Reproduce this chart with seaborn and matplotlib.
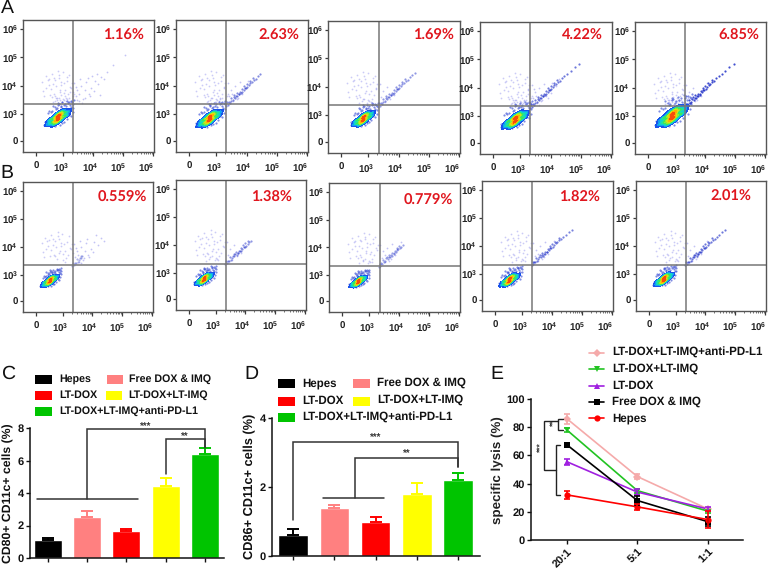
import matplotlib
matplotlib.use("Agg")
import matplotlib.pyplot as plt
from matplotlib.colors import LinearSegmentedColormap
from matplotlib.patches import Rectangle
from matplotlib.lines import Line2D
from matplotlib.transforms import ScaledTranslation
import numpy as np
import pandas as pd
import seaborn as sns

W, H = 769, 568
sns.set_style("white")
plt.rcParams["font.family"] = ["Liberation Sans", "DejaVu Sans"]
plt.rcParams["mathtext.fontset"] = "custom"
plt.rcParams["mathtext.bf"] = "Liberation Sans:bold"
plt.rcParams["mathtext.rm"] = "Liberation Sans:bold"
plt.rcParams["text.hinting"] = "no_hinting"

# ---------- flow cytometry data (log-decade units) ----------
flow_percent_a = ["1.16%", "2.63%", "1.69%", "4.22%", "6.85%"]
flow_percent_b = ["0.559%", "1.38%", "0.779%", "1.82%", "2.01%"]
core_cx_a = [2.84, 2.78, 2.84, 2.84, 2.91]
core_cy_a = [2.87, 2.84, 2.87, 2.87, 3.00]
core_sc_a = [1.0, 1.0, 0.9, 1.05, 1.25]
core_cx_b = [2.58, 2.62, 2.65, 2.59, 2.61]
core_cy_b = [2.78, 2.77, 2.76, 2.77, 2.80]
core_sc_b = [0.72, 0.75, 0.7, 0.8, 0.8]
diag_n_a = [0, 35, 36, 39, 39]
diag_n_b = [12, 30, 28, 37, 37]
diag_alpha_a = [0.35, 0.55, 0.5, 0.65, 0.85]
diag_alpha_b = [0.35, 0.5, 0.45, 0.6, 0.65]
cloud_n_a = [60, 55, 45, 60, 60]
cloud_n_b = [38, 45, 45, 45, 45]
spread_n_a = [30, 12, 8, 18, 10]
spread_n_b = [24, 8, 12, 12, 10]

core_u = [0, 0, 0, .1, -.1, .1, -.1, .05, -.05, .2, -.2, .2, -.2, .3, -.3, .3, -.3, .4, -.4, .15, -.15, 0, 0, .25, -.25]
core_v = [0, .05, -.05, .03, -.03, -.05, .05, .08, -.08, .05, -.05, -.08, .08, .03, -.03, -.08, .08, 0, 0, .12, -.12, .14, -.14, .12, -.12]
fringe_x = [-.35, -.2, -.05, .1, .25, .4, .47, -.3, -.12, .02, .18, .33, .42, -.25, -.08, .08, .22, .36, .5, -.18, -.02, .14, .3, .44, .52, -.44, -.4, -.46, .48, .35, .2, .05, -.1, -.28, .12, .28, .42, .5, .0, .16]
fringe_y = [.15, .24, .34, .42, .4, .45, .55, .24, .38, .48, .44, .52, .58, .2, .3, .38, .5, .56, .5, .42, .52, .55, .6, .38, .62, -.14, -.2, -.24, .2, .1, -.14, -.24, -.28, -.26, -.18, -.05, .05, .35, .46, .3]
cloud_x = [2.30, 2.45, 2.62, 2.71, 2.88, 2.95, 3.08, 3.21, 2.38, 2.53, 2.77, 2.83, 3.02, 3.14, 3.27, 2.42, 2.58, 2.66, 2.91, 2.99, 3.11, 3.30, 2.34, 2.49, 2.73, 2.86, 3.05, 3.18, 2.60, 2.69, 2.81, 2.94, 3.09, 3.24, 2.75, 2.89, 3.00, 2.52, 2.64, 3.15, 2.97, 2.79, 2.68, 2.87, 3.03, 3.20, 3.34, 2.93, 2.84, 3.12, 3.28, 3.38, 2.72, 2.98, 3.07, 2.90, 2.76, 3.16, 3.25, 3.35]
cloud_y = [4.12, 3.92, 4.41, 3.71, 4.28, 4.02, 3.84, 4.37, 3.62, 4.24, 3.98, 4.52, 3.75, 4.16, 3.91, 4.33, 3.68, 4.06, 3.86, 4.47, 3.58, 4.09, 3.81, 4.19, 3.65, 4.38, 4.11, 3.72, 3.88, 4.27, 3.55, 4.14, 3.47, 3.96, 4.21, 3.79, 3.52, 4.03, 3.6, 4.3, 3.44, 3.5, 3.42, 3.58, 3.48, 3.57, 3.62, 3.66, 3.39, 3.53, 3.45, 3.7, 3.46, 3.41, 3.64, 3.49, 3.56, 3.43, 3.78, 3.51]
diag_x = [3.32, 3.38, 3.41, 3.36, 3.45, 3.50, 3.48, 3.55, 3.58, 3.62, 3.60, 3.66, 3.70, 3.68, 3.74, 3.78, 3.76, 3.82, 3.86, 3.84, 3.90, 3.94, 3.92, 3.98, 4.02, 4.00, 4.07, 4.12, 4.10, 4.18, 4.24, 4.22, 4.31, 4.38, 4.46, 4.55, 4.66, 4.80, 4.95]
diag_y = [3.30, 3.33, 3.42, 3.41, 3.40, 3.47, 3.55, 3.51, 3.60, 3.58, 3.66, 3.65, 3.63, 3.73, 3.71, 3.79, 3.70, 3.76, 3.88, 3.78, 3.84, 3.91, 3.98, 3.93, 3.96, 4.05, 4.02, 4.08, 4.15, 4.12, 4.2, 4.27, 4.25, 4.33, 4.4, 4.48, 4.58, 4.72, 4.85]
spread_x = [3.42, 3.55, 3.48, 3.72, 3.61, 3.85, 3.38, 3.94, 3.68, 4.05, 3.52, 3.78, 4.18, 3.44, 3.9, 4.28, 3.63, 4.02, 3.35, 3.82, 4.38, 3.58, 4.12, 3.74, 4.45, 3.46, 3.97, 4.22, 4.68, 5.05]
spread_y = [3.62, 3.45, 3.86, 3.58, 3.98, 3.72, 4.08, 3.92, 3.52, 4.18, 3.72, 4.12, 4.05, 3.95, 3.62, 4.32, 3.4, 3.82, 3.78, 4.28, 4.22, 4.22, 4.42, 3.84, 4.5, 3.5, 4.36, 3.68, 4.72, 5.08]

# ---------- bar charts ----------
groups = ["Hepes", "Free DOX & IMQ", "LT-DOX", "LT-DOX+LT-IMQ", "LT-DOX+LT-IMQ+anti-PD-L1"]
bar_colors = ["#000000", "#FF8080", "#FF0000", "#FFFF00", "#00C400"]
cd80_values = [1.1, 2.5, 1.65, 4.45, 6.4]
cd80_errors = [0.15, 0.4, 0.15, 0.5, 0.4]
cd86_values = [0.6, 1.38, 0.98, 1.8, 2.2]
cd86_errors = [0.17, 0.09, 0.14, 0.32, 0.22]

# ---------- lysis chart ----------
ratios = ["20:1", "5:1", "1:1"]
lysis_groups = ["LT-DOX+LT-IMQ+anti-PD-L1", "LT-DOX+LT-IMQ", "LT-DOX", "Free DOX & IMQ", "Hepes"]
lysis_colors = ["#F5AAAA", "#22C322", "#A020E0", "#000000", "#FF0000"]
lysis_markers = ["D", "v", "^", "s", "o"]
lysis_pink = [86, 45, 22]
lysis_green = [78, 35, 20.5]
lysis_purple = [55.5, 34, 22]
lysis_black = [67.5, 28, 13]
lysis_red = [32, 23.5, 14.5]
err_pink = [3.5, 1.5, 1]
err_green = [1.5, 1.5, 1]
err_purple = [2, 2, 1.5]
err_black = [1, 3, 3]
err_red = [3, 2, 6]

fig = plt.figure(figsize=(W / 100, H / 100), dpi=100)


def ax_px(l, t, r, b):
    return fig.add_axes([l / W, 1 - b / H, (r - l) / W, (b - t) / H])


def ftext(x, y, s, **kw):
    kw.setdefault("va", "center")
    fig.text(x / W, 1 - y / H, s, **kw)


dark = "#3a3a3a"
minor = [d + np.log10(k) for d in (3, 4, 5) for k in range(2, 10)]
flow_cmap = LinearSegmentedColormap.from_list(
    "flow", ["#2238e0", "#1560f0", "#10a8f0", "#10e0c0", "#40e850", "#c8f020", "#ffb000", "#f02010"])
DEC_LABELS = ["0", r"$\mathbf{10^{3}}$", r"$\mathbf{10^{4}}$", r"$\mathbf{10^{5}}$", r"$\mathbf{10^{6}}$"]
LABEL_SHIFT_PX = [0, -2, -3, -5, -7]


def flow_panel(box, gate, cx, cy, sc, nd, ad, nc, ns):
    l, t, r, b = box
    ax = ax_px(l, t, r, b)
    u, v = np.array(core_u), np.array(core_v)
    x = cx + sc * (0.85 * u - 0.5 * v)
    y = cy + sc * (0.55 * u + 0.85 * v)
    fx = cx + sc * np.array(fringe_x)
    fy = cy + sc * np.array(fringe_y)
    sns.scatterplot(x=cloud_x[:nc], y=cloud_y[:nc], s=1.6, color="#6a6ae8", alpha=0.35, linewidth=0, ax=ax)
    sns.scatterplot(x=spread_x[:ns], y=spread_y[:ns], s=1.6, color="#6a6ae8", alpha=0.4, linewidth=0, ax=ax)
    if nd:
        sns.scatterplot(x=diag_x[:nd], y=diag_y[:nd], s=2.5, color="#2030c8", alpha=ad, linewidth=0, ax=ax)
    sns.scatterplot(x=fx, y=fy, s=2.5, color="#2a3fd0", alpha=0.6, linewidth=0, ax=ax)
    sns.kdeplot(x=x, y=y, fill=True, cmap=flow_cmap, levels=10, thresh=0.05, bw_adjust=0.8, ax=ax)
    ax.set_xlim(1.67, 6.03)
    ax.set_ylim(1.66, 6.32)
    gx = 3 + (gate[0] - (l + 40)) / 30
    gy = 1.66 + (b - gate[1]) / 28.3
    ax.axvline(gx, color="#777777", lw=1.1)
    ax.axhline(gy, color="#777777", lw=1.1)
    for s in ax.spines.values():
        s.set_visible(True)
        s.set_color("#555555")
        s.set_linewidth(1.0)
    ax.set_xlabel("")
    ax.set_ylabel("")
    ax.set_xticks([2.1, 3, 4, 5, 6])
    ax.set_xticklabels(DEC_LABELS, fontsize=7, fontweight="bold", color="#222222")
    ax.set_yticks([2.05, 3, 4, 5, 6])
    ax.set_yticklabels(DEC_LABELS, fontsize=7, fontweight="bold", color="#222222")
    ax.set_xticks(minor, minor=True)
    ax.tick_params(axis="x", which="major", length=3, width=0.9, color=dark, pad=4, bottom=True)
    ax.tick_params(axis="x", which="minor", length=1.5, width=0.5, color=dark, bottom=True)
    ax.tick_params(axis="y", which="major", length=2, width=0.9, color=dark, pad=1.5, left=True)
    for lab, dx in zip(ax.get_xticklabels(), LABEL_SHIFT_PX):
        lab.set_transform(lab.get_transform() + ScaledTranslation(dx / 100, 0, fig.dpi_scale_trans))


boxes_a = [(23, 20, 154, 152), (176, 20, 308, 152), (328, 21, 460, 153), (480, 22, 612, 154), (635, 22, 766, 154)]
gates_a = [(73, 104), (226, 104), (379, 105), (530, 106), (685, 106)]
boxes_b = [(23, 182, 153, 312), (176, 180, 306, 310), (329, 183, 460, 312), (482, 181, 613, 311), (636, 181, 766, 311)]
gates_b = [(73, 264), (226, 263), (380, 265), (532, 264), (686, 264)]
label_a = [(124, 36), (279, 36), (433, 36), (582, 36), (739, 36)]
label_b = [(122, 198), (272, 198), (428, 201), (579, 198), (731, 197)]

for i in range(5):
    flow_panel(boxes_a[i], gates_a[i], core_cx_a[i], core_cy_a[i], core_sc_a[i], diag_n_a[i], diag_alpha_a[i], cloud_n_a[i], spread_n_a[i])
    flow_panel(boxes_b[i], gates_b[i], core_cx_b[i], core_cy_b[i], core_sc_b[i], diag_n_b[i], diag_alpha_b[i], cloud_n_b[i], spread_n_b[i])
    ftext(*label_a[i], flow_percent_a[i], color="#E0161E", fontsize=10.5, fontweight="bold", ha="center", family="Lato")
    ftext(*label_b[i], flow_percent_b[i], color="#E0161E", fontsize=10.5, fontweight="bold", ha="center", family="Lato")

for s, x, y in [("A", 7, 8), ("B", 7, 173), ("C", 8, 374), ("D", 251, 374), ("E", 497, 374)]:
    ftext(x, y, s, fontsize=14, ha="center", color="#111111")


def bar_panel(box, xlim, ylim, values, errors, yticks, ylabel, ylx, yly, fs):
    ax = ax_px(*box)
    df = pd.DataFrame({"group": groups, "value": values})
    sns.barplot(data=df, x="group", y="value", hue="group", palette=bar_colors, order=groups,
                hue_order=groups, width=0.71, dodge=False, legend=False, saturation=1, ax=ax)
    for i, (v, e, c) in enumerate(zip(values, errors, bar_colors)):
        ax.errorbar([i], [v], yerr=[[0], [e]], fmt="none", ecolor=c, elinewidth=1.4, capsize=4.5, capthick=1.4)
    ax.set_xlim(*xlim)
    ax.set_ylim(*ylim)
    ax.set_xlabel("")
    ax.set_ylabel("")
    ax.set_xticks(range(5))
    ax.set_xticklabels([])
    ax.set_yticks(yticks)
    ax.set_yticklabels([str(t) for t in yticks], fontsize=8, fontweight="bold", color="#111111")
    ax.tick_params(axis="both", length=3, width=1, color="#111111", bottom=True, left=True, pad=1.5)
    sns.despine(ax=ax)
    for s in ("left", "bottom"):
        ax.spines[s].set_color("#111111")
        ax.spines[s].set_linewidth(1.1)
    ftext(ylx, yly, ylabel, rotation=90, ha="center", fontsize=fs, fontweight="bold", color="#111111")
    return ax


def bracket(ax, xs, ys, lw=1.1, color="#333333"):
    ax.plot(xs, ys, color=color, lw=lw, clip_on=False, solid_joinstyle="miter")


def legend_bars(items):
    for (sx, sy, sw, sh, tx, ty, c, t, fs) in items:
        fig.add_artist(Rectangle((sx / W, 1 - (sy + sh) / H), sw / W, sh / H, transform=fig.transFigure, color=c, lw=0))
        ftext(tx, ty, t, fontsize=fs, fontweight="bold", color="#111111")


# Panel C
ax_c = bar_panel((30, 428, 224, 558), (-0.46, 4.49), (0, 8), cd80_values, cd80_errors, [0, 2, 4, 6, 8],
                 "CD80+ CD11c+ cells (%)", 8, 493, 8.8)
bracket(ax_c, [1, 1, 4, 4], [3.65, 7.95, 7.95, 6.75])
bracket(ax_c, [3, 3, 4, 4], [5.2, 7.3, 7.3, 6.85])
bracket(ax_c, [-0.28, 2.3], [3.65, 3.65])
ax_c.text(2.5, 8.1, "***", ha="center", va="center", fontsize=7, fontweight="bold", color="#333333", clip_on=False)
ax_c.text(3.5, 7.45, "**", ha="center", va="center", fontsize=7, fontweight="bold", color="#333333")
FS_C = 7.7
legend_bars([
    (35, 375, 17, 8.5, 59, 379, bar_colors[0], groups[0], FS_C),
    (107, 375, 16, 8.5, 129, 379, bar_colors[1], groups[1], FS_C),
    (35, 391, 17, 8.5, 59, 395, bar_colors[2], groups[2], FS_C),
    (106, 391, 16, 8.5, 128, 395, bar_colors[3], groups[3], FS_C),
    (35, 407, 17, 8.5, 59, 412, bar_colors[4], groups[4], FS_C),
])

# Panel D
ax_d = bar_panel((272, 418, 480, 556), (-0.51, 4.53), (0, 4), cd86_values, cd86_errors, [0, 2, 4],
                 "CD86+ CD11c+ cells (%)", 250, 486, 9.2)
bracket(ax_d, [0, 0, 4, 4], [1.04, 3.3, 3.3, 2.58])
bracket(ax_d, [1.5, 1.5, 4, 4], [1.68, 2.84, 2.84, 2.58])
bracket(ax_d, [0.73, 2.2], [1.68, 1.68])
ax_d.text(2, 3.42, "***", ha="center", va="center", fontsize=7, fontweight="bold", color="#333333")
ax_d.text(2.75, 2.96, "**", ha="center", va="center", fontsize=7, fontweight="bold", color="#333333")
FS_D = 8.3
legend_bars([
    (278, 379, 17, 8.5, 302, 383, bar_colors[0], groups[0], FS_D),
    (353, 379, 17, 8.5, 377, 383, bar_colors[1], groups[1], FS_D),
    (278, 397, 17, 8.5, 302, 401, bar_colors[2], groups[2], FS_D),
    (353, 397, 17, 8.5, 377, 400, bar_colors[3], groups[3], FS_D),
    (278, 413, 17, 8.5, 302, 418, bar_colors[4], groups[4], FS_D),
])

# Panel E
ax_e = ax_px(531, 399, 743, 540)
lysis_vals = [lysis_pink, lysis_green, lysis_purple, lysis_black, lysis_red]
lysis_errs = [err_pink, err_green, err_purple, err_black, err_red]
long_df = pd.DataFrame({
    "x": [0, 1, 2] * 5,
    "group": [g for g in lysis_groups for _ in ratios],
    "value": [v for vs in lysis_vals for v in vs],
})
sns.lineplot(data=long_df, x="x", y="value", hue="group", style="group", hue_order=lysis_groups, style_order=lysis_groups,
             palette=lysis_colors, markers=lysis_markers, dashes=False, markersize=4.5, markeredgewidth=0,
             linewidth=1.2, errorbar=None, legend=False, ax=ax_e)
for vals, errs, c in zip(lysis_vals, lysis_errs, lysis_colors):
    ax_e.errorbar([0, 1, 2], vals, yerr=errs, fmt="none", ecolor=c, elinewidth=1.2, capsize=2.5, capthick=1.2)
ax_e.set_xlim(-0.51, 2.5)
ax_e.set_ylim(0, 100)
ax_e.set_xlabel("")
ax_e.set_ylabel("")
ax_e.set_xticks([0, 1, 2])
ax_e.set_xticklabels(ratios, rotation=45, ha="right", rotation_mode="anchor", fontsize=8, fontweight="bold", color="#111111")
ax_e.set_yticks([0, 20, 40, 60, 80, 100])
ax_e.set_yticklabels(["0", "20", "40", "60", "80", "100"], fontsize=8, fontweight="bold", color="#111111")
ax_e.tick_params(axis="both", length=3, width=1, color="#111111", bottom=True, left=True, pad=1.5)
sns.despine(ax=ax_e)
for s in ("left", "bottom"):
    ax_e.spines[s].set_color("#111111")
    ax_e.spines[s].set_linewidth(1.1)
ftext(498, 470, "specific lysis (%)", rotation=90, ha="center", fontsize=9.6, fontweight="bold", color="#222222")
bracket(ax_e, [-0.061, -0.128, -0.128, -0.061], [85.8, 85.8, 78.2, 78.2], lw=1, color="#222222")
bracket(ax_e, [-0.095, -0.161, -0.161, -0.095], [67.4, 67.4, 31.9, 31.9], lw=1, color="#222222")
bracket(ax_e, [-0.128, -0.326, -0.326, -0.161], [84.2, 84.2, 49.9, 49.9], lw=1, color="#222222")
ax_e.text(-0.19, 83, "**", rotation=90, ha="center", va="center", fontsize=6, fontweight="bold", color="#333333")
ax_e.text(-0.378, 66, "***", rotation=90, ha="center", va="center", fontsize=6, fontweight="bold", color="#333333")
for g, c, m, y in zip(lysis_groups, lysis_colors, lysis_markers, [353, 369, 386, 402, 418]):
    fig.add_artist(Line2D([589 / W, 604 / W], [1 - y / H, 1 - y / H], transform=fig.transFigure, color=c, lw=1.2))
    fig.add_artist(Line2D([596.5 / W], [1 - y / H], transform=fig.transFigure, color=c, marker=m, ms=4.5, mew=0))
    ftext(612, y, g, fontsize=8.3, fontweight="bold", color="#111111")

fig.savefig("out.png", dpi=100)
